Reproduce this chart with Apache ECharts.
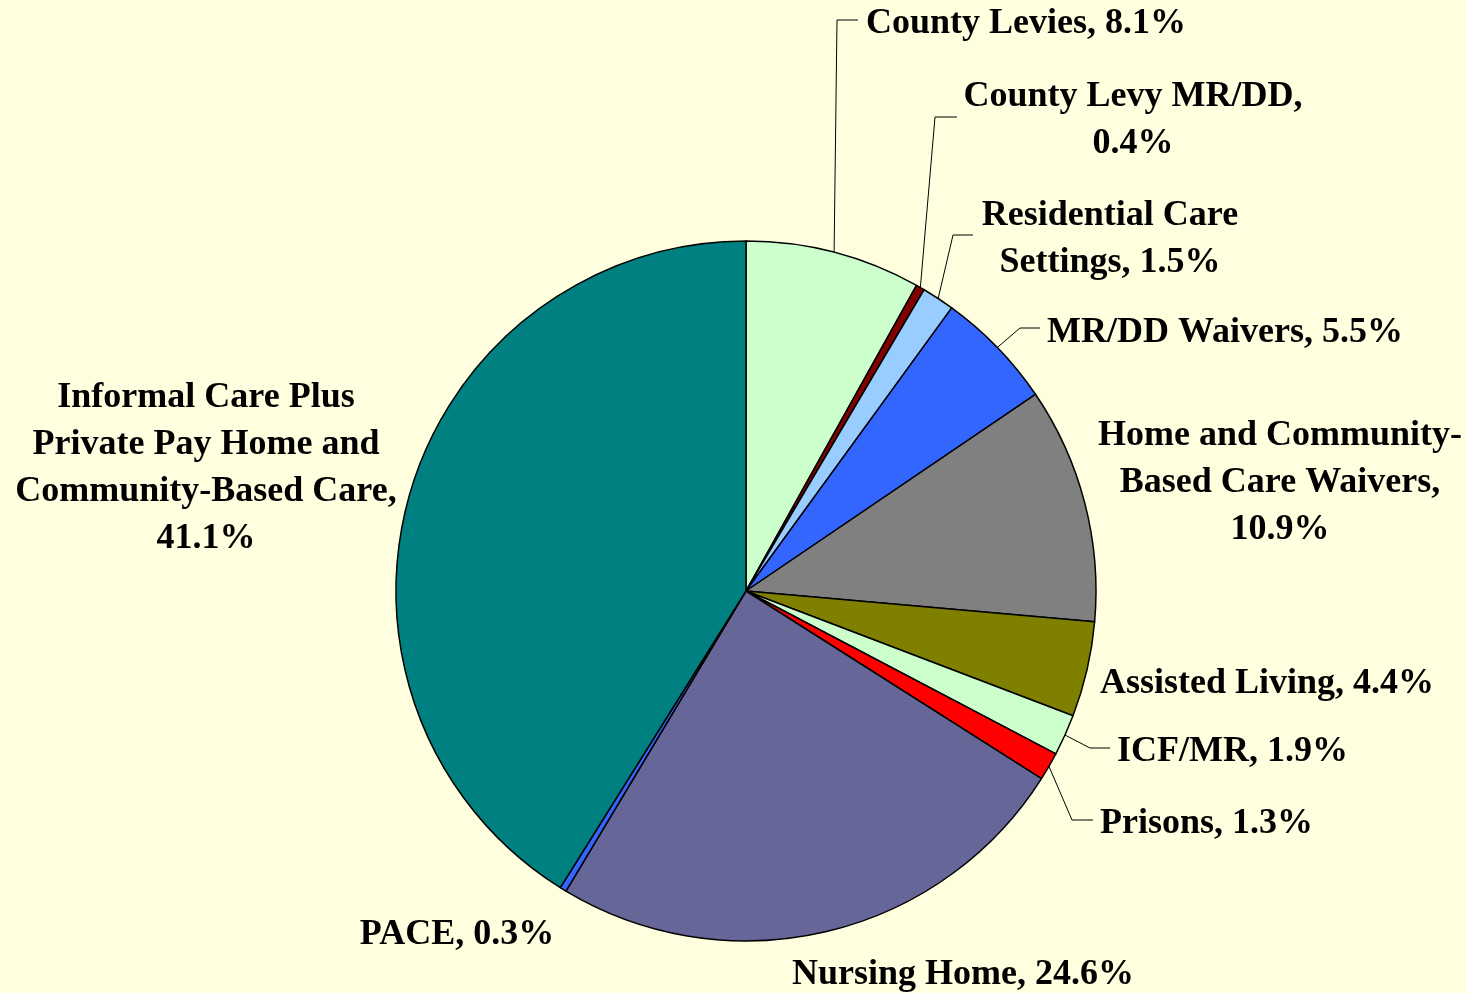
<!DOCTYPE html>
<html>
<head>
    <meta charset="UTF-8">
    <title>Long-term care spending</title>
    <style>
        html, body { margin: 0; padding: 0; background: #FFFFE0; }
        #chartDom { width: 1467px; height: 993px; }
    </style>
</head>
<body>

<script src="https://cdn.jsdelivr.net/npm/echarts@6/dist/echarts.min.js"></script>

<div id="chartDom"></div>

<script type="text/javascript">
    // slices, clockwise from 12 o'clock
    var categories = [
        'County Levies',
        'County Levy MR/DD',
        'Residential Care\nSettings',
        'MR/DD Waivers',
        'Home and Community-\nBased Care Waivers',
        'Assisted Living',
        'ICF/MR',
        'Prisons',
        'Nursing Home',
        'PACE',
        'Informal Care Plus\nPrivate Pay Home and\nCommunity-Based Care'
    ];
    var shares = [8.1, 0.4, 1.5, 5.5, 10.9, 4.4, 1.9, 1.3, 24.6, 0.3, 41.1];
    // percent goes on its own line
    var pctBreak = [false, true, false, false, true, false, false, false, false, false, true];
    var colors = ['#CCFFCC', '#800000', '#99CCFF', '#3366FF', '#808080', '#808000',
                  '#CCFFCC', '#FF0000', '#666699', '#3366FF', '#008080'];

    // where each label sits, and the bend of its leader line (if any)
    var labelPos = [
        { x: 866,  y: 24,  align: 'left',   elbow: [837, 20],   end: [858, 20] },
        { x: 1133, y: 120, align: 'center', elbow: [935, 117],  end: [957, 117] },
        { x: 1110, y: 239, align: 'center', elbow: [953, 235],  end: [973, 235] },
        { x: 1047, y: 333, align: 'left',   elbow: [1020, 328], end: [1040, 328] },
        { x: 1280, y: 483, align: 'center' },
        { x: 1100, y: 684, align: 'left' },
        { x: 1117, y: 752, align: 'left',   elbow: [1090, 748], end: [1110, 748] },
        { x: 1100, y: 824, align: 'left',   elbow: [1072, 820], end: [1093, 820] },
        { x: 963,  y: 975, align: 'center' },
        { x: 457,  y: 935, align: 'center' },
        { x: 206,  y: 468, align: 'center' }
    ];

    var myChart = echarts.init(document.getElementById('chartDom'));

    var data = shares.map(function (v, i) {
        return {
            name: categories[i],
            value: v,
            itemStyle: { color: colors[i] },
            labelLine: { show: !!labelPos[i].elbow }
        };
    });

    var option = {
        backgroundColor: '#FFFFE0',
        animation: false,
        series: [{
            type: 'pie',
            center: [746, 591],
            radius: 350,
            startAngle: 90,
            clockwise: true,
            avoidLabelOverlap: false,
            data: data,
            itemStyle: {
                borderColor: '#000000',
                borderWidth: 1.5
            },
            label: {
                show: true,
                position: 'outside',
                fontFamily: '"Liberation Serif", "Times New Roman", serif',
                fontWeight: 'bold',
                fontSize: 36,
                lineHeight: 47,
                color: '#000000',
                formatter: function (p) {
                    var sep = pctBreak[p.dataIndex] ? ',\n' : ', ';
                    return p.name + sep + p.value.toFixed(1) + '%';
                }
            },
            labelLine: {
                show: true,
                length: 20,
                length2: 20,
                lineStyle: { color: '#000000', width: 1 }
            },
            labelLayout: function (params) {
                var p = labelPos[params.dataIndex];
                var out = {
                    x: p.x,
                    y: p.y,
                    align: p.align,
                    verticalAlign: 'middle'
                };
                if (p.elbow && params.labelLinePoints) {
                    out.labelLinePoints = [params.labelLinePoints[0], p.elbow, p.end];
                }
                return out;
            }
        }]
    };

    myChart.setOption(option);
</script>
</body>
</html>
